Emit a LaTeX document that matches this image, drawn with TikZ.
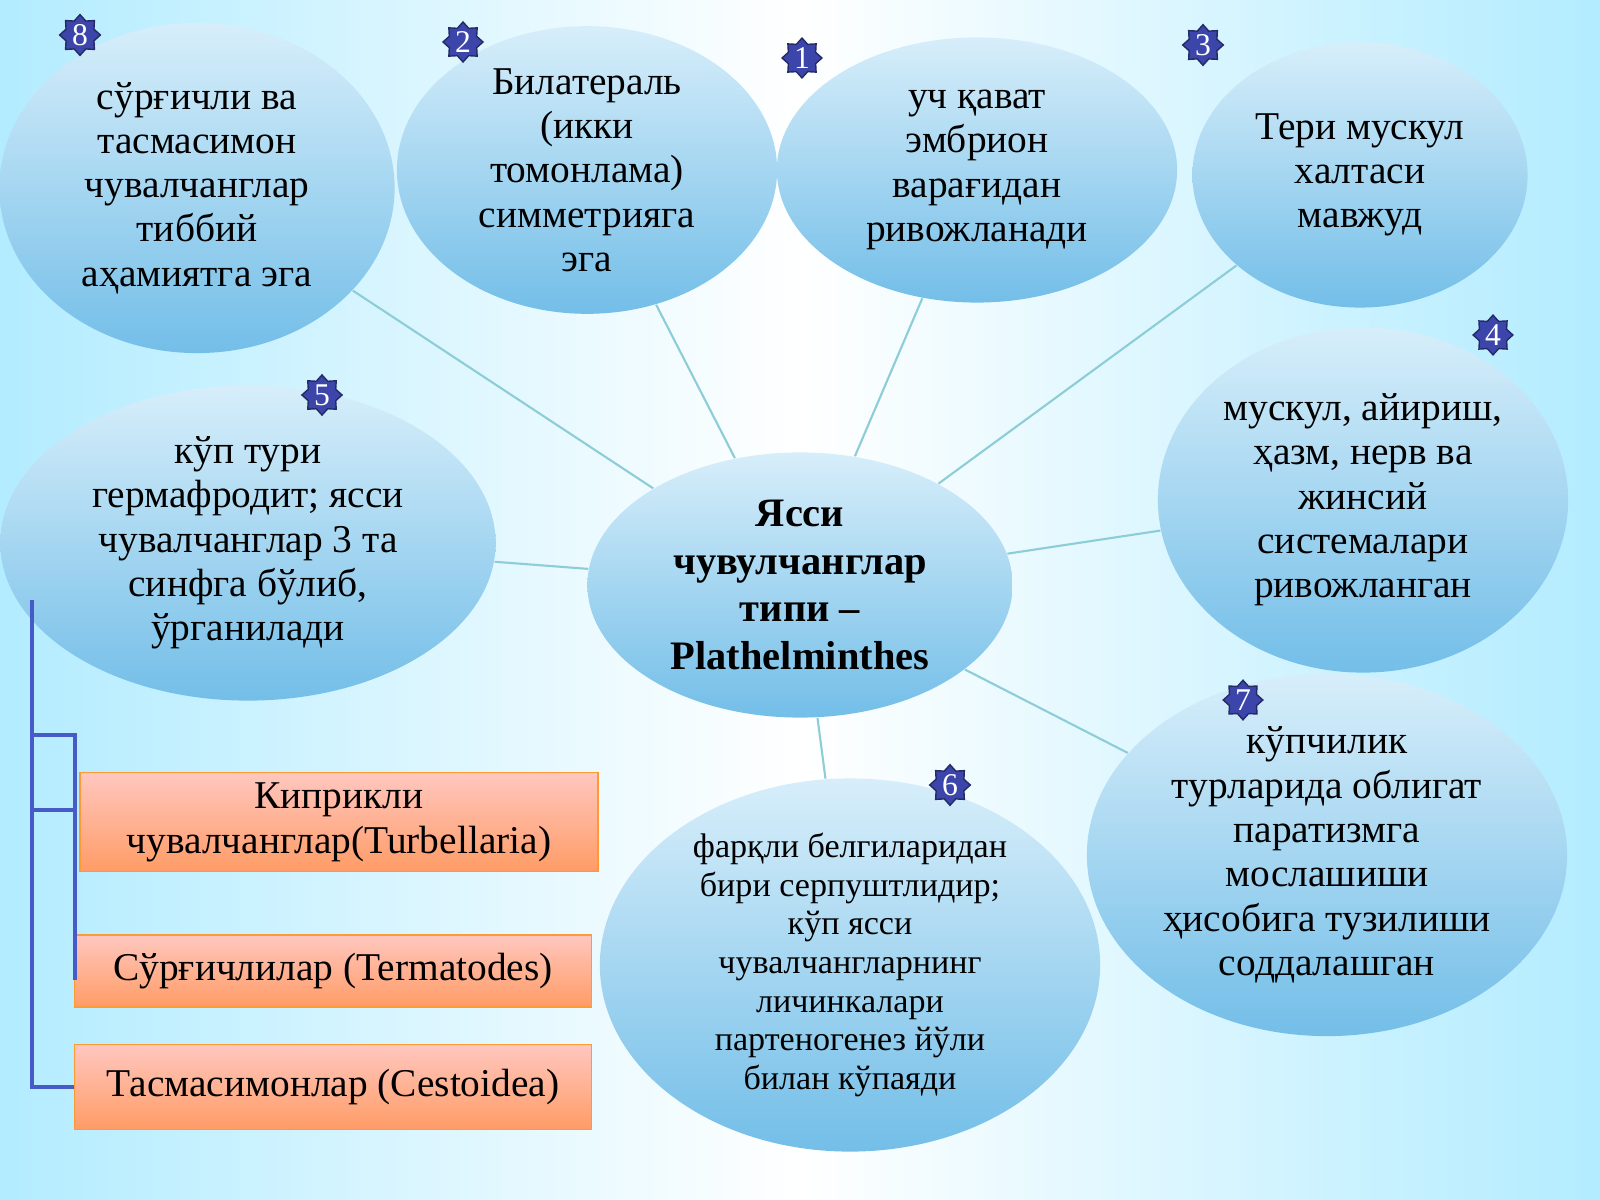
\documentclass[tikz,border=0pt]{standalone}
\usepackage{fontspec}
\setmainfont{Liberation Serif}
\usetikzlibrary{shapes.geometric}
\definecolor{linkteal}{RGB}{140,205,215}
\definecolor{ballTop}{RGB}{215,238,250}
\definecolor{ballBot}{RGB}{115,190,232}
\definecolor{starblue}{RGB}{60,70,170}
\definecolor{brackblue}{RGB}{70,90,200}
\tikzset{%
	ball/.style={
		ellipse,
		top color=ballTop,
		bottom color=ballBot,
		draw=none,
		inner sep=0pt,
		align=center,
		font=\fontsize{11.2}{12.6}\selectfont
	},
	badge/.style={
		star, star points=8, star point ratio=1.35,
		fill=starblue,
		draw=starblue!60!black,
		minimum size=0.38cm,
		inner sep=0pt,
		text=white,
		font=\fontsize{9}{9}\selectfont
	},
	taxon/.style={
		rectangle,
		top color=orange!25!red!25,
		bottom color=orange!70!red!60,
		draw=orange!80,
		align=center,
		inner sep=0pt,
		font=\fontsize{11.2}{12.8}\selectfont
	},
	link/.style={ draw=linkteal, line width=0.6pt },
	brack/.style={ draw=brackblue, line width=1.2pt },
}
\begin{document}
\begin{tikzpicture}[x=0.01cm, y=-0.01cm]
% background
\shade[left color=blue!25!cyan!30, right color=blue!25!cyan!30, middle color=white]
	(0,0) rectangle (1600,1200);
\useasboundingbox (0,0) rectangle (1600,1200);

% ellipses
\node[ball, minimum width=3.95cm, minimum height=3.3cm] (trait-8) at (197,188)
	{сўрғичли ва\\тасмасимон\\чувалчанглар\\тиббий\\аҳамиятга эга};
\node[ball, minimum width=3.8cm, minimum height=2.65cm] (trait-2) at (587,170)
	{Билатераль\\(икки\\томонлама)\\симметрияга\\эга};
\node[ball, minimum width=4cm, minimum height=2.65cm] (trait-1) at (977,170)
	{уч қават\\эмбрион\\варағидан\\ривожланади};
\node[ball, minimum width=3.35cm, minimum height=2.65cm] (trait-3) at (1360,175)
	{Тери мускул\\халтаси\\мавжуд};
\node[ball, minimum width=4.1cm, minimum height=3.45cm] (trait-4) at (1363,500)
	{мускул, айириш,\\ҳазм, нерв ва\\жинсий\\системалари\\ривожланган};
\node[ball, minimum width=4.95cm, minimum height=3.15cm] (trait-5) at (248,543)
	{кўп тури\\гермафродит; ясси\\чувалчанглар 3 та\\синфга бўлиб,\\ўрганилади};
\node[ball, minimum width=4.8cm, minimum height=3.1cm] (trait-7) at (1327,855)
	{кўпчилик\\турларида облигат\\паратизмга\\мослашиши\\ҳисобига тузилиши\\соддалашган};
\node[ball, minimum width=5cm, minimum height=3.45cm,
	font=\fontsize{9.7}{11}\selectfont] (trait-6) at (850,965)
	{фарқли белгиларидан\\бири серпуштлидир;\\кўп ясси\\чувалчангларнинг\\личинкалари\\партеногенез йўли\\билан кўпаяди};
\node[ball, minimum width=4.25cm, minimum height=2.65cm,
	font=\fontsize{11.5}{13.6}\selectfont\bfseries] (center) at (800,585)
	{Ясси\\чувулчанглар\\типи –\\Plathelminthes};

% links
\foreach \n in {1,...,8}
	\draw[link] (center) -- (trait-\n);

% badges
\foreach \n/\px/\py in {8/80/35, 2/463/42, 1/802/58, 3/1203/45, 4/1493/335, 5/322/395, 6/950/785, 7/1243/700}
	\node[badge] (badge-\n) at (\px,\py) {\n};

% classes
\node[taxon, minimum width=5.18cm, minimum height=0.99cm] (class-1) at (339,822)
	{Киприкли\\чувалчанглар(Turbellaria)};
\node[taxon, minimum width=5.17cm, minimum height=0.72cm] (class-2) at (333,971)
	{Сўрғичлилар (Termatodes)};
\node[taxon, minimum width=5.17cm, minimum height=0.85cm] (class-3) at (333,1087)
	{Тасмасимонлар (Cestoidea)};

% bracket
\coordinate (top) at (32,600);
\draw[brack] (top) |- (class-3.west);
\draw[brack] (32,735) -- (75,735) -- (75,980);
\draw[brack] (32,810) -- (75,810);
\end{tikzpicture}
\end{document}
